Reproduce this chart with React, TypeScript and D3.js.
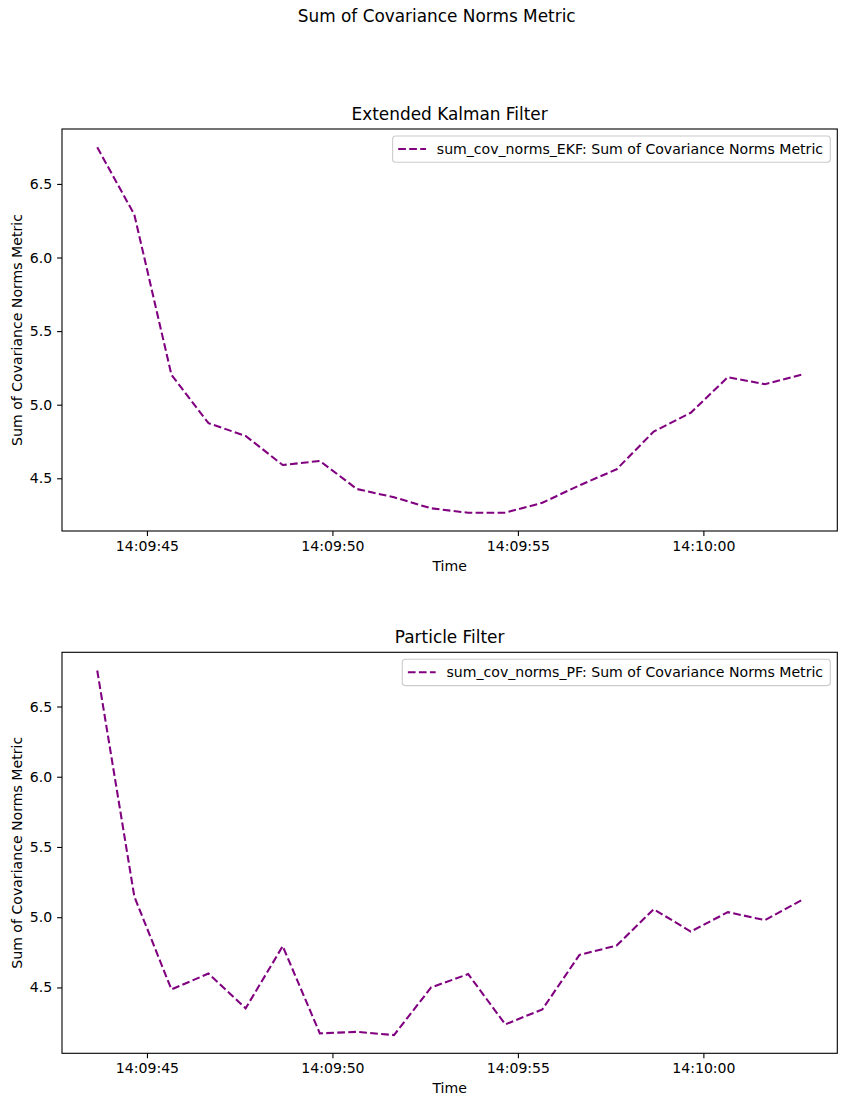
import React, { useEffect, useRef } from "react";
import * as d3 from "d3";

// Sample timestamps (one per second)
const timestamps = [
  "14:09:43.660", "14:09:44.660", "14:09:45.660", "14:09:46.660", "14:09:47.660",
  "14:09:48.660", "14:09:49.660", "14:09:50.660", "14:09:51.660", "14:09:52.660",
  "14:09:53.660", "14:09:54.660", "14:09:55.660", "14:09:56.660", "14:09:57.660",
  "14:09:58.660", "14:09:59.660", "14:10:00.660", "14:10:01.660", "14:10:02.660",
];

const ekfValues = [
  6.749, 6.291, 5.203, 4.874, 4.788, 4.59, 4.618, 4.427, 4.371, 4.296,
  4.266, 4.266, 4.334, 4.452, 4.561, 4.817, 4.945, 5.187, 5.139, 5.205,
];

const pfValues = [
  6.756, 5.147, 4.486, 4.599, 4.351, 4.794, 4.173, 4.184, 4.161, 4.5,
  4.595, 4.237, 4.344, 4.732, 4.798, 5.057, 4.898, 5.036, 4.979, 5.123,
];

const yTicks = [4.5, 5.0, 5.5, 6.0, 6.5];

const FONT = "DejaVu Sans";
const PURPLE = "#800080";
const FS = 14.1; // tick / label / legend size
const TITLE_FS = 16.9;

interface PanelProps {
  title: string;
  label: string;
  values: number[];
  top: number;
  height: number;
}

const parseTime = d3.timeParse("%H:%M:%S.%L");

const Panel: React.FC<PanelProps> = ({ title, label, values, top, height }) => {
  const gRef = useRef<SVGGElement | null>(null);
  const left = 62;
  const width = 775.3;

  useEffect(() => {
    const g = d3.select(gRef.current);
    g.selectAll("*").remove();
    g.attr("transform", `translate(${left},${top})`);

    const data = timestamps.map((t, i) => ({
      time: parseTime(t) as Date,
      value: values[i],
    }));

    // matplotlib-style 5% margins on both axes
    const [t0, t1] = d3.extent(data, (d) => d.time) as [Date, Date];
    const tPad = (t1.getTime() - t0.getTime()) * 0.05;
    const xScale = d3
      .scaleTime()
      .domain([new Date(t0.getTime() - tPad), new Date(t1.getTime() + tPad)])
      .range([0, width]);

    const [v0, v1] = d3.extent(values) as [number, number];
    const vPad = (v1 - v0) * 0.05;
    const yScale = d3
      .scaleLinear()
      .domain([v0 - vPad, v1 + vPad])
      .range([height, 0]);

    const xAxis = d3
      .axisBottom(xScale)
      .ticks(d3.timeSecond.every(5))
      .tickSize(4.9)
      .tickPadding(4.9)
      .tickFormat((d) => d3.timeFormat("%H:%M:%S")(d as Date));

    const yAxis = d3
      .axisLeft(yScale)
      .tickValues(yTicks)
      .tickSize(4.9)
      .tickPadding(4.9)
      .tickFormat(d3.format(".1f"));

    const xg = g.append("g").attr("transform", `translate(0,${height})`).call(xAxis);
    const yg = g.append("g").call(yAxis);

    [xg, yg].forEach((ax) => {
      ax.attr("font-family", FONT).attr("font-size", FS);
      ax.select(".domain").remove();
      ax.selectAll(".tick line").attr("stroke", "#000").attr("stroke-width", 1.1);
      ax.selectAll(".tick text").attr("fill", "#000");
    });

    // Data line
    const line = d3
      .line<{ time: Date; value: number }>()
      .x((d) => xScale(d.time))
      .y((d) => yScale(d.value));

    g.append("path")
      .datum(data)
      .attr("d", line)
      .attr("fill", "none")
      .attr("stroke", PURPLE)
      .attr("stroke-width", 2.08)
      .attr("stroke-dasharray", "7.7,3.3");

    // Axes frame
    g.append("rect")
      .attr("width", width)
      .attr("height", height)
      .attr("fill", "none")
      .attr("stroke", "#000")
      .attr("stroke-width", 1.1);

    // Title and axis labels
    g.append("text")
      .attr("x", width / 2)
      .attr("y", -9.5)
      .attr("text-anchor", "middle")
      .attr("font-family", FONT)
      .attr("font-size", TITLE_FS)
      .text(title);

    g.append("text")
      .attr("x", width / 2)
      .attr("y", height + 40)
      .attr("text-anchor", "middle")
      .attr("font-family", FONT)
      .attr("font-size", FS)
      .text("Time");

    g.append("text")
      .attr("transform", `translate(${22 - left},${height / 2}) rotate(-90)`)
      .attr("text-anchor", "middle")
      .attr("font-family", FONT)
      .attr("font-size", FS)
      .text("Sum of Covariance Norms Metric");

    // Legend, upper right
    const legend = g.append("g");
    const frame = legend.append("rect");
    const legendText = legend
      .append("text")
      .attr("font-family", FONT)
      .attr("font-size", FS)
      .attr("y", 17.5)
      .text(label);
    const textLen = (legendText.node() as SVGTextElement).getComputedTextLength();
    const boxW = 5.6 + 27.8 + 10.8 + textLen + 7.2;
    const boxH = 26.3;
    frame
      .attr("width", boxW)
      .attr("height", boxH)
      .attr("rx", 3)
      .attr("fill", "#fff")
      .attr("fill-opacity", 0.8)
      .attr("stroke", "#cccccc")
      .attr("stroke-width", 1.1);
    legend
      .append("line")
      .attr("x1", 5.6)
      .attr("x2", 5.6 + 27.8)
      .attr("y1", 13)
      .attr("y2", 13)
      .attr("stroke", PURPLE)
      .attr("stroke-width", 2.08)
      .attr("stroke-dasharray", "7.7,3.3");
    legendText.attr("x", 5.6 + 27.8 + 10.8);
    legend.attr("transform", `translate(${width - 7 - boxW},7)`);
  }, [title, label, values, top, height]);

  return <g ref={gRef}></g>;
};

const App: React.FC = () => {
  return (
    <svg
      width={846}
      height={1107}
      style={{ position: "absolute", left: 0, top: 0, background: "#fff" }}
    >
      <text
        x={436.7}
        y={22}
        textAnchor="middle"
        fontFamily={FONT}
        fontSize={TITLE_FS}
      >
        Sum of Covariance Norms Metric
      </text>
      <Panel
        title="Extended Kalman Filter"
        label="sum_cov_norms_EKF: Sum of Covariance Norms Metric"
        values={ekfValues}
        top={129}
        height={402}
      />
      <Panel
        title="Particle Filter"
        label="sum_cov_norms_PF: Sum of Covariance Norms Metric"
        values={pfValues}
        top={652.3}
        height={401}
      />
    </svg>
  );
};

export default App;
